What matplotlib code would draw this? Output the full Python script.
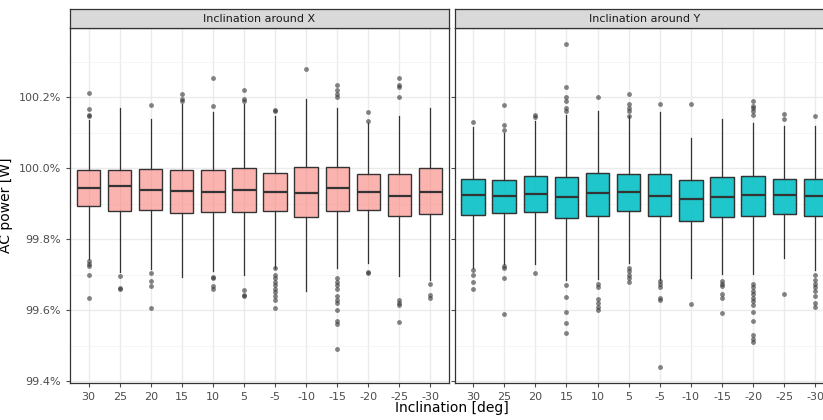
import matplotlib
matplotlib.use('Agg')
import matplotlib.pyplot as plt
from matplotlib.patches import Rectangle

inclinations = ['30', '25', '20', '15', '10', '5', '-5', '-10', '-15', '-20', '-25', '-30']
panel_titles = ['Inclination around X', 'Inclination around Y']

# per inclination: lower whisker, q1, median, q3, upper whisker
x_stats = [
    (99.745, 99.893, 99.944, 99.994, 100.137),
    (99.708, 99.880, 99.950, 99.994, 100.171),
    (99.717, 99.882, 99.938, 99.997, 100.140),
    (99.694, 99.874, 99.935, 99.994, 100.180),
    (99.711, 99.877, 99.933, 99.994, 100.157),
    (99.700, 99.877, 99.938, 100.000, 100.180),
    (99.719, 99.880, 99.933, 99.986, 100.146),
    (99.655, 99.863, 99.930, 100.003, 100.196),
    (99.720, 99.880, 99.944, 100.003, 100.171),
    (99.733, 99.882, 99.933, 99.983, 100.126),
    (99.697, 99.865, 99.922, 99.983, 100.146),
    (99.686, 99.871, 99.933, 100.000, 100.171),
]
x_fliers = [
    [100.213, 100.168, 100.151, 100.146, 99.74, 99.73, 99.725, 99.70, 99.635],
    [99.697, 99.664, 99.66],
    [100.177, 99.706, 99.683, 99.669, 99.605],
    [100.21, 100.194, 100.19],
    [100.255, 100.174, 99.694, 99.69, 99.669, 99.66],
    [100.22, 100.196, 100.19, 99.658, 99.644, 99.64],
    [100.165, 100.16, 99.718, 99.70, 99.69, 99.68, 99.67, 99.66, 99.65, 99.64, 99.63, 99.605],
    [100.28],
    [100.235, 100.22, 100.21, 100.2, 99.69, 99.68, 99.67, 99.66, 99.64, 99.63, 99.62,
     99.60, 99.57, 99.56, 99.49],
    [100.157, 100.132, 99.708, 99.704],
    [100.255, 100.235, 100.23, 100.2, 99.63, 99.62, 99.615, 99.568],
    [99.675, 99.644, 99.635],
]
y_stats = [
    (99.719, 99.868, 99.924, 99.969, 100.115),
    (99.731, 99.874, 99.921, 99.966, 100.100),
    (99.731, 99.877, 99.927, 99.978, 100.132),
    (99.686, 99.860, 99.918, 99.975, 100.151),
    (99.689, 99.865, 99.930, 99.986, 100.162),
    (99.734, 99.880, 99.933, 99.983, 100.146),
    (99.686, 99.865, 99.921, 99.983, 100.157),
    (99.691, 99.851, 99.913, 99.966, 100.084),
    (99.702, 99.862, 99.918, 99.975, 100.140),
    (99.702, 99.865, 99.924, 99.978, 100.128),
    (99.748, 99.871, 99.924, 99.969, 100.120),
    (99.713, 99.865, 99.921, 99.969, 100.118),
]
y_fliers = [
    [100.13, 99.713, 99.70, 99.68, 99.66],
    [100.177, 100.123, 100.109, 99.725, 99.72, 99.69, 99.588],
    [100.15, 100.145, 99.705],
    [100.35, 100.23, 100.2, 100.19, 100.17, 100.16, 99.671, 99.637, 99.596, 99.565, 99.535],
    [100.2, 99.675, 99.665, 99.632, 99.62, 99.61, 99.60],
    [100.21, 100.18, 100.17, 100.16, 100.147, 99.72, 99.71, 99.70, 99.69, 99.68],
    [100.18, 99.683, 99.675, 99.665, 99.635, 99.63, 99.44],
    [100.182, 99.617],
    [99.683, 99.675, 99.668, 99.645, 99.635, 99.592],
    [100.19, 100.175, 100.17, 100.16, 100.15, 99.675, 99.665, 99.655, 99.645, 99.635,
     99.625, 99.615, 99.595, 99.57, 99.53, 99.52, 99.51],
    [100.153, 100.14, 99.646],
    [100.146, 99.70, 99.685, 99.675, 99.665, 99.655, 99.64, 99.62, 99.61],
]

yticks = [99.4, 99.6, 99.8, 100.0, 100.2]
W, H = 823, 420

fig = plt.figure(figsize=(W / 100, H / 100), dpi=100)


def make_stats(stats, fliers):
    out = []
    for (wl, q1, med, q3, wh), fl in zip(stats, fliers):
        out.append(dict(whislo=wl, q1=q1, med=med, q3=q3, whishi=wh, fliers=fl))
    return out


panels = [
    (70, 449, (0.4, 12.6), x_stats, x_fliers, '#F8766D', 0.55),
    (455, 834, (0.42, 12.6), y_stats, y_fliers, '#00BFC4', 0.88),
]
top, bottom, strip_top = 28, 383, 9
for i, (x0, x1, xl, st, fl, col, alpha) in enumerate(panels):
    ax = fig.add_axes([x0 / W, 1 - bottom / H, (x1 - x0) / W, (bottom - top) / H])
    ax.bxp(make_stats(st, fl), positions=range(1, 13), widths=0.75, patch_artist=True,
           boxprops=dict(facecolor=col, alpha=alpha, edgecolor='#333333', linewidth=0.9),
           medianprops=dict(color='#333333', linewidth=1.6),
           whiskerprops=dict(color='#333333', linewidth=0.9),
           capprops=dict(linewidth=0),
           flierprops=dict(marker='o', markersize=3.5, markerfacecolor='#333333',
                           markeredgecolor='none', alpha=0.6))
    # redraw box outline opaque
    for k, s in enumerate(st):
        ax.add_patch(Rectangle((k + 1 - 0.375, s[1]), 0.75, s[3] - s[1], fill=False,
                               edgecolor='#333333', linewidth=0.9, zorder=3))
    ax.set_xlim(*xl)
    ax.set_ylim(99.395, 100.395)
    ax.set_xticks(range(1, 13))
    ax.set_xticklabels(inclinations)
    ax.set_yticks(yticks)
    ax.set_yticks([99.5, 99.7, 99.9, 100.1, 100.3], minor=True)
    ax.set_yticklabels(['%.1f%%' % v for v in yticks] if i == 0 else [])
    ax.grid(True, which='major', color='#EBEBEB', linewidth=1.0)
    ax.grid(True, which='minor', axis='y', color='#F4F4F4', linewidth=0.6)
    ax.set_axisbelow(True)
    ax.tick_params(axis='both', which='major', labelsize=8, colors='#4D4D4D', length=3)
    ax.tick_params(axis='y', which='minor', length=0)
    for sp in ax.spines.values():
        sp.set_color('#333333')
        sp.set_linewidth(0.9)
    if i == 0:
        ax.set_ylabel('AC power [W]', fontsize=10)
    sax = fig.add_axes([x0 / W, 1 - top / H, (x1 - x0) / W, (top - strip_top) / H])
    sax.set_facecolor('#D9D9D9')
    sax.set_xticks([])
    sax.set_yticks([])
    for sp in sax.spines.values():
        sp.set_color('#333333')
        sp.set_linewidth(0.9)
    sax.text(0.5, 0.5, panel_titles[i], ha='center', va='center', fontsize=8,
             color='#1A1A1A', transform=sax.transAxes)

fig.text(452 / W, 1 - 408 / H, 'Inclination [deg]', ha='center', va='center', fontsize=10)
fig.savefig('out.png', dpi=100)
